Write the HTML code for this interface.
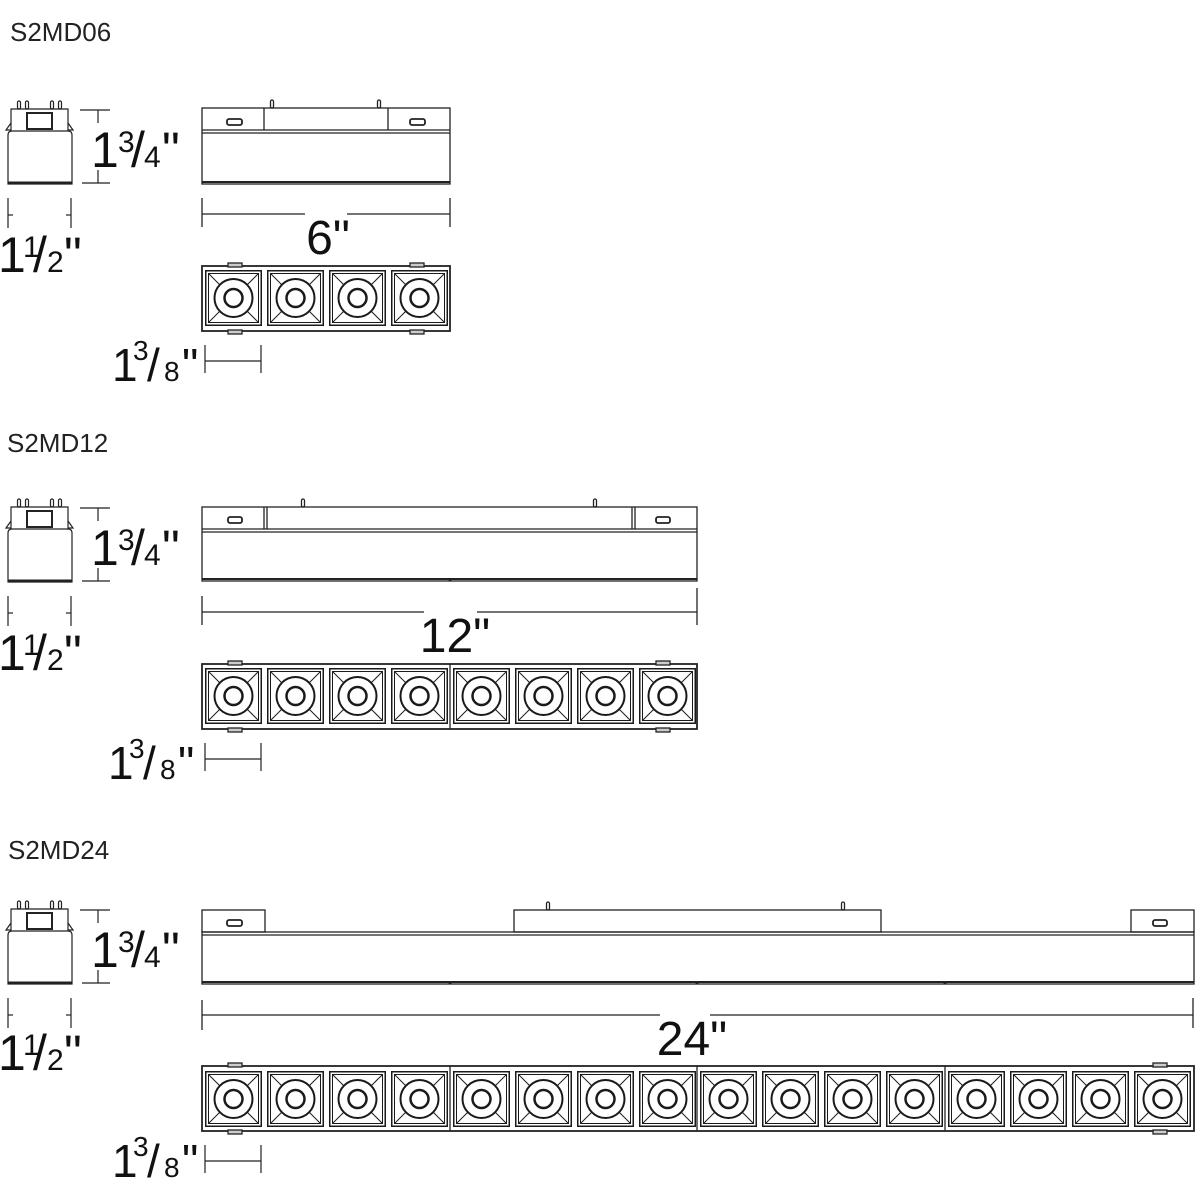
<!DOCTYPE html>
<html><head><meta charset="utf-8"><style>
html,body{margin:0;padding:0;background:#fff}
svg{display:block}
.t{font-family:"Liberation Sans Narrow","Liberation Sans",sans-serif;fill:#111}
.l{font-family:"Liberation Sans",sans-serif;fill:#222;font-size:26px}
</style></head><body>
<svg width="1200" height="1200" viewBox="0 0 1200 1200" xmlns="http://www.w3.org/2000/svg">
<defs>
<g id="c" fill="none" stroke="#1a1a1a">
<rect x="0.75" y="0.75" width="55.5" height="54.5" stroke-width="1.5"/>
<rect x="3.5" y="3.5" width="50" height="49" stroke-width="1"/>
<line x1="3.5" y1="3.5" x2="15" y2="15" stroke-width="1"/>
<line x1="53.5" y1="3.5" x2="42" y2="15" stroke-width="1"/>
<line x1="3.5" y1="52.5" x2="15" y2="41" stroke-width="1"/>
<line x1="53.5" y1="52.5" x2="42" y2="41" stroke-width="1"/>
<circle cx="28.5" cy="28" r="19" stroke-width="2"/>
<circle cx="28.5" cy="28" r="9" stroke-width="2.5"/>
</g>
<g id="e" fill="none" stroke="#222" stroke-width="1.2">
<rect x="17.5" y="101" width="3" height="8" rx="1.5"/>
<rect x="25.5" y="101" width="3" height="8" rx="1.5"/>
<rect x="50.5" y="101" width="3" height="8" rx="1.5"/>
<rect x="58.5" y="101" width="3" height="8" rx="1.5"/>
<path d="M11,131 V109 H68 V131"/>
<path d="M11,123 L6,130 H11 M68,123 L73,130 H68"/>
<rect x="27" y="113" width="25" height="16" stroke-width="2"/>
<path d="M8,184 V135 Q8,131 12,131 H68 Q72,131 72,135 V184 Z"/>
<line x1="8" y1="182.5" x2="72" y2="182.5" stroke-width="2"/>
<line x1="80" y1="110" x2="110" y2="110"/>
<line x1="82" y1="183" x2="110" y2="183"/>
<line x1="98" y1="110" x2="98" y2="123"/>
<line x1="98" y1="170" x2="98" y2="183"/>
<line x1="8" y1="198" x2="8" y2="228"/>
<line x1="71" y1="198" x2="71" y2="228"/>
<line x1="8" y1="215" x2="13" y2="215"/>
<line x1="66" y1="215" x2="71" y2="215"/>
<line x1="205" y1="345" x2="205" y2="373"/>
<line x1="261" y1="345" x2="261" y2="373"/>
<line x1="205" y1="361" x2="261" y2="361"/>
</g>
</defs>

<!-- SECTION 1 -->
<text class="l" x="10" y="41">S2MD06</text>
<use href="#e"/>
<g fill="none" stroke="#222" stroke-width="1.3">
<rect x="202" y="108" width="248" height="76"/>
<line x1="202" y1="130" x2="450" y2="130"/><line x1="202" y1="133" x2="450" y2="133"/>
<line x1="202" y1="182" x2="450" y2="182" stroke-width="2"/>
<line x1="264" y1="108" x2="264" y2="130"/><line x1="388" y1="108" x2="388" y2="130"/>
<rect x="227" y="119" width="15" height="6" rx="2" stroke-width="1.8"/>
<rect x="410" y="119" width="15" height="6" rx="2" stroke-width="1.8"/>
<rect x="270.5" y="100" width="3" height="8" rx="1.5"/><rect x="377.5" y="100" width="3" height="8" rx="1.5"/>
<line x1="202" y1="198" x2="202" y2="227"/><line x1="450" y1="198" x2="450" y2="227"/>
<line x1="202" y1="214" x2="305" y2="214"/><line x1="347" y1="214" x2="450" y2="214"/>
<rect x="202" y="266" width="248" height="65" stroke-width="1.8"/>
<rect x="228" y="263" width="14" height="4" fill="#ccc"/><rect x="410" y="263" width="14" height="4" fill="#ccc"/>
<rect x="228" y="330" width="14" height="4" fill="#ccc"/><rect x="410" y="330" width="14" height="4" fill="#ccc"/>
</g>
<use href="#c" x="205" y="270"/><use href="#c" x="267" y="270"/><use href="#c" x="329" y="270"/><use href="#c" x="391" y="270"/>
<text class="t"><tspan x="91" y="167" font-size="50">1</tspan><tspan x="118" y="152" font-size="30">3</tspan><tspan x="131" y="167" font-size="50">/</tspan><tspan x="144" y="167" font-size="30">4</tspan><tspan x="162" y="167" font-size="50">"</tspan></text>
<text class="t"><tspan x="-2" y="272" font-size="50">1</tspan><tspan x="23" y="257" font-size="30">1</tspan><tspan x="33" y="272" font-size="50">/</tspan><tspan x="47" y="272" font-size="30">2</tspan><tspan x="64" y="272" font-size="50">"</tspan></text>
<text class="t" x="328" y="254" font-size="48" text-anchor="middle">6"</text>
<text class="t"><tspan x="112" y="381" font-size="46">1</tspan><tspan x="133" y="360" font-size="28">3</tspan><tspan x="147" y="381" font-size="46">/</tspan><tspan x="164" y="381" font-size="28">8</tspan><tspan x="182" y="381" font-size="46">"</tspan></text>

<!-- SECTION 2 -->
<text class="l" x="7" y="452">S2MD12</text>
<use href="#e" y="398"/>
<g fill="none" stroke="#222" stroke-width="1.3">
<rect x="202" y="507" width="495" height="74"/>
<line x1="202" y1="529" x2="697" y2="529"/><line x1="202" y1="532" x2="697" y2="532"/>
<line x1="202" y1="579" x2="697" y2="579" stroke-width="2"/>
<line x1="264" y1="507" x2="264" y2="529"/><line x1="267" y1="507" x2="267" y2="529"/>
<line x1="632" y1="507" x2="632" y2="529"/><line x1="635" y1="507" x2="635" y2="529"/>
<rect x="228" y="517" width="14" height="6" rx="2" stroke-width="1.8"/>
<rect x="656" y="517" width="14" height="6" rx="2" stroke-width="1.8"/>
<rect x="301.5" y="499" width="3" height="8" rx="1.5"/><rect x="593.5" y="499" width="3" height="8" rx="1.5"/>
<line x1="202" y1="596" x2="202" y2="625"/><line x1="697" y1="588" x2="697" y2="625"/>
<line x1="202" y1="612" x2="424" y2="612"/><line x1="477" y1="612" x2="697" y2="612"/>
<rect x="202" y="664" width="495" height="65" stroke-width="1.8"/>
<line x1="450" y1="664" x2="450" y2="729"/>
<rect x="228" y="661" width="14" height="4" fill="#ccc"/><rect x="656" y="661" width="14" height="4" fill="#ccc"/>
<rect x="228" y="728" width="14" height="4" fill="#ccc"/><rect x="656" y="728" width="14" height="4" fill="#ccc"/>
</g>
<circle cx="450" cy="580" r="1.5" fill="#222"/>
<use href="#c" x="205" y="668"/><use href="#c" x="267" y="668"/><use href="#c" x="329" y="668"/><use href="#c" x="391" y="668"/>
<use href="#c" x="453" y="668"/><use href="#c" x="515" y="668"/><use href="#c" x="577" y="668"/><use href="#c" x="639" y="668"/>
<text class="t"><tspan x="91" y="565" font-size="50">1</tspan><tspan x="118" y="550" font-size="30">3</tspan><tspan x="131" y="565" font-size="50">/</tspan><tspan x="144" y="565" font-size="30">4</tspan><tspan x="162" y="565" font-size="50">"</tspan></text>
<text class="t"><tspan x="-2" y="670" font-size="50">1</tspan><tspan x="23" y="655" font-size="30">1</tspan><tspan x="33" y="670" font-size="50">/</tspan><tspan x="47" y="670" font-size="30">2</tspan><tspan x="64" y="670" font-size="50">"</tspan></text>
<text class="t" x="455" y="652" font-size="48" text-anchor="middle">12"</text>
<text class="t"><tspan x="108" y="779" font-size="46">1</tspan><tspan x="129" y="758" font-size="28">3</tspan><tspan x="143" y="779" font-size="46">/</tspan><tspan x="160" y="779" font-size="28">8</tspan><tspan x="178" y="779" font-size="46">"</tspan></text>

<!-- SECTION 3 -->
<text class="l" x="8" y="859">S2MD24</text>
<use href="#e" y="800"/>
<g fill="none" stroke="#222" stroke-width="1.3">
<rect x="202" y="910" width="63" height="22"/>
<rect x="514" y="910" width="367" height="22"/>
<rect x="1131" y="910" width="63" height="22"/>
<rect x="202" y="932" width="992" height="52"/>
<line x1="202" y1="935" x2="1194" y2="935"/>
<line x1="202" y1="982" x2="1194" y2="982" stroke-width="2"/>
<rect x="227" y="920" width="15" height="6" rx="2" stroke-width="1.8"/>
<rect x="1153" y="920" width="14" height="6" rx="2" stroke-width="1.8"/>
<rect x="546.5" y="902" width="3" height="8" rx="1.5"/><rect x="841.5" y="902" width="3" height="8" rx="1.5"/>
<line x1="202" y1="1000" x2="202" y2="1030"/><line x1="1193" y1="998" x2="1193" y2="1028"/>
<line x1="202" y1="1015" x2="660" y2="1015"/><line x1="710" y1="1015" x2="1193" y2="1015"/>
<rect x="202" y="1066" width="992" height="65" stroke-width="1.8"/>
<line x1="450" y1="1066" x2="450" y2="1131"/><line x1="697" y1="1066" x2="697" y2="1131"/><line x1="945" y1="1066" x2="945" y2="1131"/>
<rect x="228" y="1063" width="14" height="4" fill="#ccc"/><rect x="1153" y="1063" width="14" height="4" fill="#ccc"/>
<rect x="228" y="1130" width="14" height="4" fill="#ccc"/><rect x="1153" y="1130" width="14" height="4" fill="#ccc"/>
</g>
<circle cx="450" cy="983" r="1.5" fill="#222"/><circle cx="697" cy="983" r="1.5" fill="#222"/><circle cx="945" cy="983" r="1.5" fill="#222"/>
<use href="#c" x="205" y="1071"/><use href="#c" x="267" y="1071"/><use href="#c" x="329" y="1071"/><use href="#c" x="391" y="1071"/>
<use href="#c" x="453" y="1071"/><use href="#c" x="515" y="1071"/><use href="#c" x="577" y="1071"/><use href="#c" x="639" y="1071"/>
<use href="#c" x="700" y="1071"/><use href="#c" x="762" y="1071"/><use href="#c" x="824" y="1071"/><use href="#c" x="886" y="1071"/>
<use href="#c" x="948" y="1071"/><use href="#c" x="1010" y="1071"/><use href="#c" x="1072" y="1071"/><use href="#c" x="1134" y="1071"/>
<text class="t"><tspan x="91" y="967" font-size="50">1</tspan><tspan x="118" y="952" font-size="30">3</tspan><tspan x="131" y="967" font-size="50">/</tspan><tspan x="144" y="967" font-size="30">4</tspan><tspan x="162" y="967" font-size="50">"</tspan></text>
<text class="t"><tspan x="-2" y="1070" font-size="50">1</tspan><tspan x="23" y="1055" font-size="30">1</tspan><tspan x="33" y="1070" font-size="50">/</tspan><tspan x="47" y="1070" font-size="30">2</tspan><tspan x="64" y="1070" font-size="50">"</tspan></text>
<text class="t" x="692" y="1055" font-size="48" text-anchor="middle">24"</text>
<text class="t"><tspan x="112" y="1177" font-size="46">1</tspan><tspan x="133" y="1156" font-size="28">3</tspan><tspan x="147" y="1177" font-size="46">/</tspan><tspan x="164" y="1177" font-size="28">8</tspan><tspan x="182" y="1177" font-size="46">"</tspan></text>
</svg>
</body></html>
